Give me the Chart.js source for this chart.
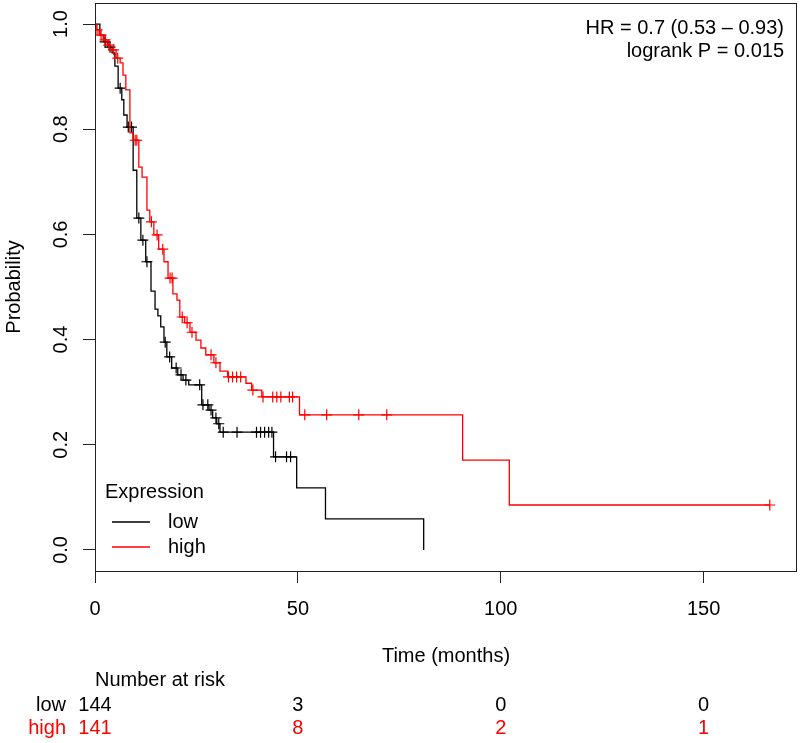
<!DOCTYPE html>
<html>
<head>
<meta charset="utf-8">
<script src="https://cdn.jsdelivr.net/npm/chart.js@4.4.1/dist/chart.umd.min.js"></script>
<style>
  html, body { margin: 0; padding: 0; background: #fff; }
</style>
</head>
<body>
<canvas id="km" width="800" height="743"></canvas>
<script>
// Kaplan-Meier steps, [months, survival]
var lowSteps = [
  [0, 1.0], [1.2, 0.979], [2.2, 0.966], [3.2, 0.956], [4.2, 0.945], [4.9, 0.920],
  [5.7, 0.878], [6.6, 0.856], [7.1, 0.827], [7.9, 0.804], [9.4, 0.722], [10.3, 0.631],
  [11.3, 0.589], [12.5, 0.548], [13.8, 0.492], [14.8, 0.458], [15.5, 0.445], [16.2, 0.424],
  [17.0, 0.395], [17.7, 0.367], [18.9, 0.346], [20.4, 0.333], [21.7, 0.323], [23.1, 0.314],
  [26.3, 0.276], [28.1, 0.266], [29.0, 0.251], [30.0, 0.240], [30.8, 0.224], [44.0, 0.177],
  [49.7, 0.118], [56.8, 0.059], [81.0, 0.0]
];
var highSteps = [
  [0, 1.0], [0.25, 0.989], [1.0, 0.979], [2.0, 0.970], [3.0, 0.960], [3.7, 0.951],
  [5.2, 0.935], [6.2, 0.926], [6.9, 0.903], [7.6, 0.875], [8.6, 0.793], [9.4, 0.779],
  [10.8, 0.728], [11.6, 0.709], [12.8, 0.646], [13.5, 0.624], [14.5, 0.599], [15.7, 0.572],
  [17.0, 0.548], [18.0, 0.517], [19.2, 0.487], [20.2, 0.475], [20.9, 0.443], [22.1, 0.432],
  [23.4, 0.414], [24.9, 0.399], [26.1, 0.384], [27.3, 0.371], [29.3, 0.356], [30.8, 0.340],
  [32.7, 0.329], [37.2, 0.317], [38.6, 0.304], [41.1, 0.291], [50.4, 0.257], [90.6, 0.171],
  [102.1, 0.0855], [166.3, 0.0855]
];
// censoring times (months)
var lowCensor = [2.5, 3.7, 6.2, 8.2, 9.0, 10.8, 11.8, 12.8, 17.3, 18.4, 20.0, 21.2, 22.4,
  25.8, 26.6, 27.8, 28.6, 29.8, 30.5, 31.6, 35.0, 39.8, 40.8, 41.8, 42.8, 43.6, 44.5, 47.2, 48.2];
var highCensor = [0.5, 1.5, 2.5, 3.4, 4.6, 5.6, 9.9, 10.3, 13.9, 15.3, 16.7, 18.5, 19.0,
  21.5, 22.7, 23.9, 28.6, 29.8, 32.9, 33.9, 34.9, 35.9, 38.9, 41.4, 43.8, 44.8, 45.8, 47.9,
  48.7, 51.7, 57.1, 65.0, 71.9, 166.3];

var xTicks = [0, 50, 100, 150];
var yTicks = [0, 0.2, 0.4, 0.6, 0.8, 1.0];
var riskTimes = [0, 50, 100, 150];
var riskLow = [144, 3, 0, 0];
var riskHigh = [141, 8, 2, 1];
var groupNames = ['low', 'high'];
var groupColors = ['#000000', '#ff0000'];
var statLines = ['HR = 0.7 (0.53 \u2013 0.93)', 'logrank P = 0.015'];

var FONT = '"Liberation Sans", Arial, sans-serif';
var FSIZE = 20;
Chart.defaults.font.family = FONT;
Chart.defaults.font.size = FSIZE;
Chart.defaults.color = '#000';

function toXY(steps) {
  return steps.map(function (s) { return {x: s[0], y: s[1]}; });
}

// survival value at time t (step function lookup)
function survAt(steps, t) {
  var p = steps[0][1];
  for (var i = 0; i < steps.length; i++) {
    if (steps[i][0] <= t) p = steps[i][1];
  }
  return p;
}

function censorXY(times, steps) {
  return times.map(function (t) { return {x: t, y: survAt(steps, t)}; });
}

var kmDecor = {
  id: 'kmDecor',
  afterDraw: function (chart) {
    var ctx = chart.ctx;
    var a = chart.chartArea;
    var xs = chart.scales.x;
    ctx.save();

    // box
    ctx.strokeStyle = '#222';
    ctx.lineWidth = 1;
    ctx.strokeRect(Math.round(a.left) + 0.5, Math.round(a.top) + 0.5,
      Math.round(a.right - a.left) - 1, Math.round(a.bottom - a.top));

    ctx.font = FSIZE + 'px ' + FONT;
    ctx.fillStyle = '#000';
    ctx.textBaseline = 'middle';

    // stats, top right
    ctx.textAlign = 'right';
    ctx.fillText(statLines[0], a.right - 13, a.top + 25);
    ctx.fillText(statLines[1], a.right - 13, a.top + 48);

    // legend, bottom left
    ctx.textAlign = 'left';
    ctx.fillText('Expression', a.left + 10, a.bottom - 79);
    for (var i = 0; i < groupNames.length; i++) {
      var ly = a.bottom - 49 + i * 25;
      ctx.strokeStyle = groupColors[i];
      ctx.lineWidth = 1.3;
      ctx.beginPath();
      ctx.moveTo(a.left + 17, ly);
      ctx.lineTo(a.left + 55, ly);
      ctx.stroke();
      ctx.fillStyle = '#000';
      ctx.fillText(groupNames[i], a.left + 73, ly);
    }

    // number at risk
    ctx.fillText('Number at risk', a.left, 680);
    var rows = [riskLow, riskHigh];
    for (var r = 0; r < rows.length; r++) {
      var ry = 705 + r * 23;
      ctx.fillStyle = groupColors[r];
      ctx.textAlign = 'right';
      ctx.fillText(groupNames[r], 66, ry);
      ctx.textAlign = 'center';
      for (var k = 0; k < riskTimes.length; k++) {
        ctx.fillText(String(rows[r][k]), xs.getPixelForValue(riskTimes[k]), ry);
      }
    }
    ctx.restore();
  }
};

function noPad(s) {
  s.paddingTop = 0; s.paddingBottom = 0; s.paddingLeft = 0; s.paddingRight = 0;
}

var ctx = document.getElementById('km').getContext('2d');
new Chart(ctx, {
  type: 'scatter',
  data: {
    datasets: [
      {
        label: 'high', data: toXY(highSteps), showLine: true, stepped: 'before',
        borderColor: groupColors[1], borderWidth: 1.3, pointRadius: 0, fill: false
      },
      {
        label: 'high censored', data: censorXY(highCensor, highSteps), showLine: false,
        pointStyle: 'cross', pointRadius: 5.5, borderColor: groupColors[1], borderWidth: 1.2
      },
      {
        label: 'low', data: toXY(lowSteps), showLine: true, stepped: 'before',
        borderColor: groupColors[0], borderWidth: 1.3, pointRadius: 0, fill: false
      },
      {
        label: 'low censored', data: censorXY(lowCensor, lowSteps), showLine: false,
        pointStyle: 'cross', pointRadius: 5.5, borderColor: groupColors[0], borderWidth: 1.2
      }
    ]
  },
  options: {
    responsive: false,
    devicePixelRatio: 1,
    animation: false,
    layout: { autoPadding: false, padding: { top: 3, right: 3, left: 0, bottom: 74.6 } },
    plugins: {
      legend: { display: false },
      tooltip: { enabled: false }
    },
    scales: {
      x: {
        type: 'linear', min: 0, max: 173,
        afterBuildTicks: function (s) { s.ticks = xTicks.map(function (v) { return {value: v}; }); },
        afterFit: function (s) { s.height = 97.4; noPad(s); },
        ticks: { padding: 14.5, maxRotation: 0, autoSkip: false },
        grid: { drawOnChartArea: false, drawTicks: true, tickLength: 12, tickColor: '#222', tickWidth: 1 },
        border: { display: false },
        title: { display: true, text: 'Time (months)', padding: { top: 0, bottom: 0 } }
      },
      y: {
        type: 'linear', min: -0.04, max: 1.04,
        afterBuildTicks: function (s) { s.ticks = yTicks.map(function (v) { return {value: v}; }); },
        afterFit: function (s) { s.width = 95; noPad(s); },
        ticks: {
          minRotation: 90, maxRotation: 90, crossAlign: 'center', padding: 8,
          callback: function (v) { return v.toFixed(1); }
        },
        grid: { drawOnChartArea: false, drawTicks: true, tickLength: 12, tickColor: '#222', tickWidth: 1 },
        border: { display: false },
        title: { display: true, text: 'Probability', padding: { top: 2, bottom: 0 } }
      }
    }
  },
  plugins: [kmDecor]
});
</script>
</body>
</html>
